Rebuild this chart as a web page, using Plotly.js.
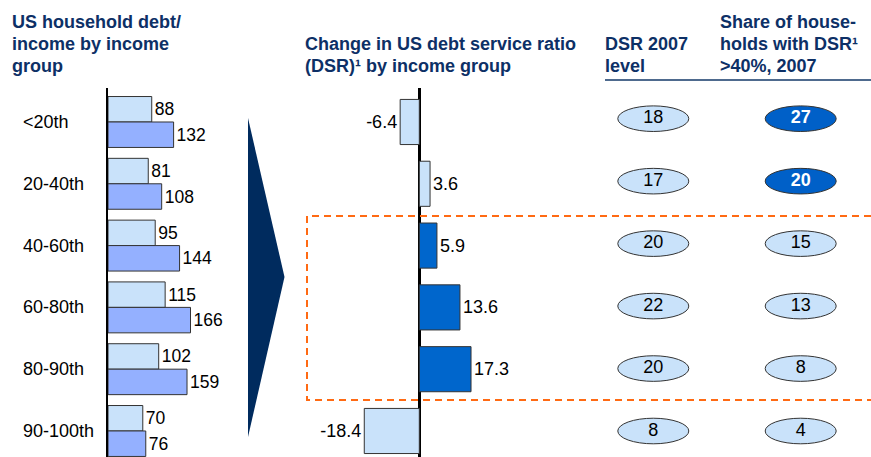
<!DOCTYPE html>
<html><head><meta charset="utf-8">
<script src="https://cdn.plot.ly/plotly-3.0.1.min.js"></script>
<style>html,body{margin:0;padding:0;background:#fff}#chart{width:871px;height:457px}</style>
</head><body><div id="chart"></div>
<script>
// ---- data ----
const groups = ['<20th', '20-40th', '40-60th', '60-80th', '80-90th', '90-100th'];
const debtIncomeEarlier = [88, 81, 95, 115, 102, 70];
const debtIncome2007 = [132, 108, 144, 166, 159, 76];
const dsrChange = [-6.4, 3.6, 5.9, 13.6, 17.3, -18.4];
const dsrLevel2007 = [18, 17, 20, 22, 20, 8];
const shareDsrOver40 = [27, 20, 15, 13, 8, 4];
const highlightedGroups = ['40-60th', '60-80th', '80-90th'];
const titleLeft = ['US household debt/', 'income by income', 'group'];
const titleMid = ['Change in US debt service ratio', '(DSR)¹ by income group'];
const headDsr = ['DSR 2007', 'level'];
const headShare = ['Share of house-', 'holds with DSR¹', '>40%, 2007'];

// ---- styling ----
const W = 871, H = 457;
const px = x => x / W;
const py = y => 1 - y / H;
const FONT = 'Liberation Sans, Arial, Helvetica, sans-serif';
const NAVY = '#0D3066';
const LIGHT = '#C9E2FA';
const LEFTDARK = '#94B0FF';
const MIDDARK = '#0066CC';
const SHAREDARK = '#0060C8';
const OUTLINE = '#333333';

const idx = groups.map((g, i) => i);

const traces = [
  {
    type: 'bar', orientation: 'h', name: 'Earlier',
    x: debtIncomeEarlier, y: groups, xaxis: 'x', yaxis: 'y',
    width: 0.412, offset: -0.412,
    marker: {color: LIGHT, line: {color: OUTLINE, width: 1}},
    text: debtIncomeEarlier.map(String), textposition: 'outside',
    textfont: {family: FONT, size: 17.5, color: '#000'},
    cliponaxis: false, constraintext: 'none', hoverinfo: 'none'
  },
  {
    type: 'bar', orientation: 'h', name: '2007',
    x: debtIncome2007, y: groups, xaxis: 'x', yaxis: 'y',
    width: 0.412, offset: 0,
    marker: {color: LEFTDARK, line: {color: OUTLINE, width: 1}},
    text: debtIncome2007.map(String), textposition: 'outside',
    textfont: {family: FONT, size: 17.5, color: '#000'},
    cliponaxis: false, constraintext: 'none', hoverinfo: 'none'
  },
  {
    type: 'bar', orientation: 'h', name: 'Change in DSR',
    x: dsrChange, y: groups, xaxis: 'x2', yaxis: 'y2',
    width: 0.73, offset: -0.365,
    marker: {color: groups.map(g => highlightedGroups.includes(g) ? MIDDARK : LIGHT), line: {color: OUTLINE, width: 1}},
    text: dsrChange.map(v => v.toFixed(1)), textposition: 'outside',
    textfont: {family: FONT, size: 18, color: '#000'},
    cliponaxis: false, constraintext: 'none', hoverinfo: 'none'
  },
  {
    type: 'scatter', mode: 'text', name: 'DSR 2007 level',
    x: idx.map(() => 0), y: idx, xaxis: 'x3', yaxis: 'y3',
    text: dsrLevel2007.map(String),
    textfont: {family: FONT, size: 18, color: '#000'},
    cliponaxis: false, hoverinfo: 'none'
  },
  {
    type: 'scatter', mode: 'text', name: 'Share DSR>40%',
    x: idx.map(() => 1), y: idx, xaxis: 'x3', yaxis: 'y3',
    text: shareDsrOver40.map(v => v >= 20 ? '<b>' + v + '</b>' : String(v)),
    textfont: {family: FONT, size: 18, color: shareDsrOver40.map(v => v >= 20 ? '#fff' : '#000')},
    cliponaxis: false, hoverinfo: 'none'
  }
];

const shapes = [];
// ellipses
[dsrLevel2007, shareDsrOver40].forEach((vals, c) => {
  vals.forEach((v, i) => {
    const dark = c === 1 && v >= 20;
    shapes.push({
      type: 'circle', layer: 'below',
      xref: 'x3', yref: 'y3',
      xsizemode: 'pixel', xanchor: c, x0: -35.5, x1: 35.5,
      ysizemode: 'pixel', yanchor: i, y0: -12.8, y1: 12.8,
      fillcolor: dark ? SHAREDARK : LIGHT,
      line: {color: OUTLINE, width: 1}
    });
  });
});
// arrow
shapes.push({
  type: 'path', xref: 'paper', yref: 'paper', layer: 'above',
  path: `M ${px(248)} ${py(118)} L ${px(284.5)} ${py(277)} L ${px(248)} ${py(437)} Z`,
  fillcolor: '#002B5E', line: {width: 0}
});
// header rule
shapes.push({
  type: 'line', xref: 'paper', yref: 'paper',
  x0: px(605), x1: px(871), y0: py(80), y1: py(80),
  line: {color: '#4E6A8E', width: 2}
});
// dashed highlight frame
shapes.push({
  type: 'path', xref: 'paper', yref: 'paper',
  path: `M ${px(871)} ${py(216)} L ${px(307)} ${py(216)} L ${px(307)} ${py(400)} L ${px(871)} ${py(400)}`,
  line: {color: '#FF6A13', width: 2, dash: '7px,5px'}
});

const annotations = [];
groups.forEach((g, i) => {
  annotations.push({
    xref: 'paper', x: px(21), xanchor: 'left',
    yref: 'y', y: i, yanchor: 'middle',
    text: g, showarrow: false,
    font: {family: FONT, size: 18, color: '#000'}
  });
});
function titleLines(lines, x, yTops) {
  lines.forEach((t, k) => {
    annotations.push({
      xref: 'paper', x: px(x), xanchor: 'left',
      yref: 'paper', y: py(yTops[k]), yanchor: 'middle',
      text: t, showarrow: false,
      font: {family: FONT, size: 18, color: NAVY, weight: 'bold'}
    });
  });
}
titleLines(titleLeft, 10, [22, 44, 66]);
titleLines(titleMid, 303, [44, 66]);
titleLines(headDsr, 603, [44, 66]);
titleLines(headShare, 718, [22, 44, 66]);

const hidden = {showgrid: false, zeroline: false, showticklabels: false, ticks: '', showline: false, fixedrange: true};

const layout = {
  width: W, height: H,
  margin: {l: 0, r: 0, t: 0, b: 0, pad: 0},
  paper_bgcolor: '#fff', plot_bgcolor: 'rgba(0,0,0,0)',
  showlegend: false,
  barmode: 'overlay',
  font: {family: FONT},
  xaxis: Object.assign({}, hidden, {domain: [px(108), px(250)], range: [0, 142 / 0.497], anchor: 'y'}),
  yaxis: Object.assign({}, hidden, {domain: [0, py(88)], range: [5.421, -0.550], anchor: 'x',
    showline: true, linecolor: '#000', linewidth: 2.5}),
  xaxis2: Object.assign({}, hidden, {domain: [px(330), px(560)], range: [(330 - 419.3) / 2.99, (560 - 419.3) / 2.99], anchor: 'y2',
    zeroline: true, zerolinecolor: '#000', zerolinewidth: 2.5}),
  yaxis2: Object.assign({}, hidden, {domain: [0, py(88)], range: [5.421, -0.550], anchor: 'x2'}),
  xaxis3: Object.assign({}, hidden, {domain: [0, 1], range: [-4.432, 1.477], anchor: 'y3'}),
  yaxis3: Object.assign({}, hidden, {domain: [0, 1], range: [5.416, -1.900], anchor: 'x3'}),
  shapes: shapes,
  annotations: annotations
};

Plotly.newPlot('chart', traces, layout, {displayModeBar: false, staticPlot: true});
</script>
</body></html>
